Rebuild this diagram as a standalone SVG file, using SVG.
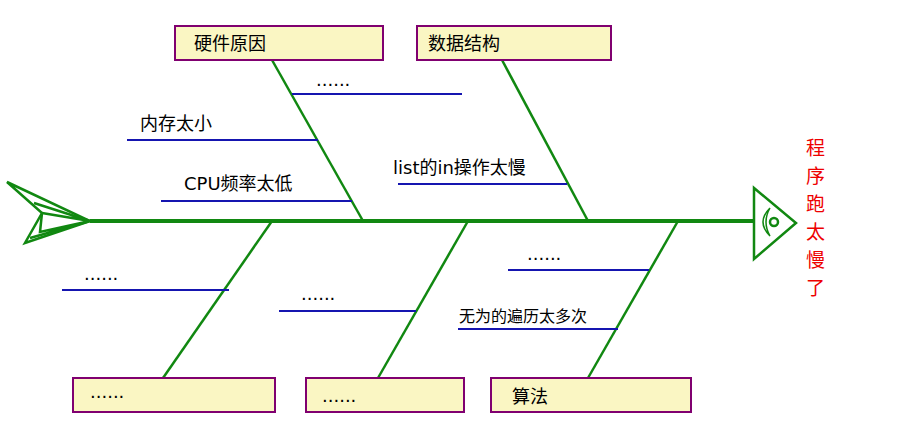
<svg xmlns="http://www.w3.org/2000/svg" width="912" height="447" viewBox="0 0 912 447">
<style>
.g{stroke:#118811;fill:none;stroke-width:2.5}
.b{stroke:#1515b0;stroke-width:2}
.box{fill:#faf6c3;stroke:#800070;stroke-width:2}
text{font-family:"DejaVu Sans","Noto Sans CJK SC",sans-serif;font-size:18px;fill:#000}
.r{fill:#ee0000;font-size:19px}
</style>
<rect width="912" height="447" fill="#fff"/>
<g id="fish">
<polygon class="g" points="7,182 42,213 25,243 90,221"/>
<path class="g" stroke-width="1.5" d="M42,213 L90,221 M34,203 L90,221 M42,213 L40,232 L90,221 M30,238 L90,221"/>
<line x1="90" y1="221" x2="754" y2="221" stroke="#118811" stroke-width="4"/>
<polygon class="g" stroke-width="3" points="754,188 754,259 796,223"/>
<circle cx="774" cy="222" r="4" class="g" stroke-width="2"/>
<path d="M770,208 Q756,222 770,236 Q762,222 770,208" fill="none" stroke="#118811" stroke-width="1.5"/>
</g>
<g id="connectors">
<line class="g" x1="363" y1="221" x2="272" y2="60"/>
<line class="g" x1="588" y1="221" x2="502" y2="60"/>
<line class="g" x1="272" y1="221" x2="163" y2="378"/>
<line class="g" x1="468" y1="221" x2="378" y2="378"/>
<line class="g" x1="678" y1="221" x2="588" y2="378"/>
<line class="b" x1="292" y1="94" x2="462" y2="94"/>
<line class="b" x1="127" y1="140" x2="318" y2="140"/>
<line class="b" x1="161" y1="201" x2="352" y2="201"/>
<line class="b" x1="398" y1="184" x2="567" y2="184"/>
<line class="b" x1="62" y1="290" x2="229" y2="290"/>
<line class="b" x1="279" y1="311" x2="416" y2="311"/>
<line class="b" x1="508" y1="270" x2="649" y2="270"/>
<line class="b" x1="458" y1="329" x2="618" y2="329"/>
</g>
<g id="n1"><rect class="box" x="175" y="26" width="208" height="34"/><text x="194" y="50">硬件原因</text></g>
<g id="n2"><rect class="box" x="417" y="26" width="194" height="34"/><text x="428" y="50">数据结构</text></g>
<g id="n3"><rect class="box" x="73" y="378" width="202" height="34"/><text x="90" y="398">......</text></g>
<g id="n4"><rect class="box" x="306" y="378" width="158" height="34"/><text x="322" y="402">......</text></g>
<g id="n5"><rect class="box" x="491" y="378" width="200" height="34"/><text x="512" y="403">算法</text></g>
<g id="labels">
<text x="316" y="86">......</text>
<text x="140" y="130">内存太小</text>
<text x="184" y="190">CPU频率太低</text>
<text x="393" y="174">list的in操作太慢</text>
<text x="84" y="280">......</text>
<text x="301" y="300">......</text>
<text x="527" y="260">......</text>
<text x="459" y="322" style="font-size:16px">无为的遍历太多次</text>
<text class="r" x="806" y="155">程</text>
<text class="r" x="806" y="183">序</text>
<text class="r" x="806" y="211">跑</text>
<text class="r" x="806" y="239">太</text>
<text class="r" x="806" y="267">慢</text>
<text class="r" x="806" y="295">了</text>
</g>
</svg>
